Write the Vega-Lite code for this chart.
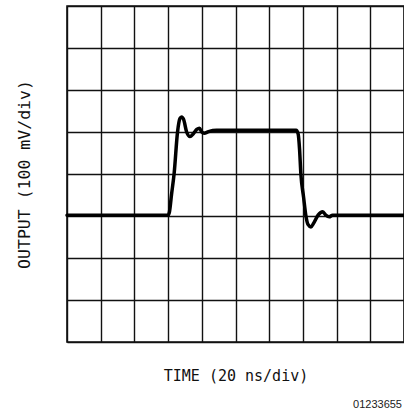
{
  "$schema": "https://vega.github.io/schema/vega-lite/v6.json",
  "autosize": "none",
  "width": 337,
  "height": 336,
  "padding": {"left": 67, "top": 6, "right": 0, "bottom": 71},
  "background": "white",
  "config": {
    "view": {"stroke": "#111", "strokeWidth": 1.6},
    "axis": {"font": "DejaVu Sans Mono"}
  },
  "title": {
    "text": "01233655",
    "orient": "bottom",
    "anchor": "end",
    "frame": "group",
    "dx": -2,
    "font": "Liberation Sans",
    "fontSize": 11,
    "fontWeight": "normal",
    "color": "#222",
    "offset": 16
  },
  "data": {
    "values": [
      {"t": 0, "v": 3.02},
      {"t": 3.0, "v": 3.02},
      {"t": 3.04, "v": 3.1},
      {"t": 3.1, "v": 3.5},
      {"t": 3.18, "v": 4.02},
      {"t": 3.28, "v": 5.0},
      {"t": 3.35, "v": 5.32},
      {"t": 3.4, "v": 5.36},
      {"t": 3.46, "v": 5.3},
      {"t": 3.55, "v": 5.0},
      {"t": 3.65, "v": 4.89},
      {"t": 3.75, "v": 4.96},
      {"t": 3.85, "v": 5.06},
      {"t": 3.93, "v": 5.09},
      {"t": 4.0, "v": 5.0},
      {"t": 4.07, "v": 4.97},
      {"t": 4.2, "v": 5.01},
      {"t": 4.44, "v": 5.04},
      {"t": 6.8, "v": 5.04},
      {"t": 6.86, "v": 4.95},
      {"t": 6.9, "v": 4.6},
      {"t": 6.94, "v": 4.0},
      {"t": 7.02, "v": 3.45},
      {"t": 7.09, "v": 3.0},
      {"t": 7.15, "v": 2.8},
      {"t": 7.24, "v": 2.74},
      {"t": 7.32, "v": 2.83},
      {"t": 7.45, "v": 3.02},
      {"t": 7.59, "v": 3.1},
      {"t": 7.68, "v": 3.02},
      {"t": 7.78, "v": 2.98},
      {"t": 7.88, "v": 3.02},
      {"t": 10, "v": 3.02}
    ]
  },
  "mark": {"type": "line", "color": "black", "strokeWidth": 3.5, "interpolate": "monotone", "strokeJoin": "round", "strokeCap": "round"},
  "encoding": {
    "x": {
      "field": "t",
      "type": "quantitative",
      "scale": {"domain": [0, 10], "nice": false},
      "axis": {
        "values": [0, 1, 2, 3, 4, 5, 6, 7, 8, 9, 10],
        "grid": true,
        "gridColor": "#111",
        "gridWidth": 1.4,
        "gridOpacity": 1,
        "labels": false,
        "ticks": false,
        "domain": false,
        "title": "TIME (20 ns/div)",
        "titleFont": "DejaVu Sans Mono",
        "titleFontSize": 15,
        "titleFontWeight": "normal",
        "titleColor": "#111",
        "titlePadding": 26
      }
    },
    "y": {
      "field": "v",
      "type": "quantitative",
      "scale": {"domain": [0, 8], "nice": false},
      "axis": {
        "values": [0, 1, 2, 3, 4, 5, 6, 7, 8],
        "grid": true,
        "gridColor": "#111",
        "gridWidth": 1.4,
        "gridOpacity": 1,
        "labels": false,
        "ticks": false,
        "domain": false,
        "title": "OUTPUT (100 mV/div)",
        "titleFont": "DejaVu Sans Mono",
        "titleFontSize": 16.5,
        "titleFontWeight": "normal",
        "titleColor": "#111",
        "titlePadding": 35
      }
    }
  }
}
